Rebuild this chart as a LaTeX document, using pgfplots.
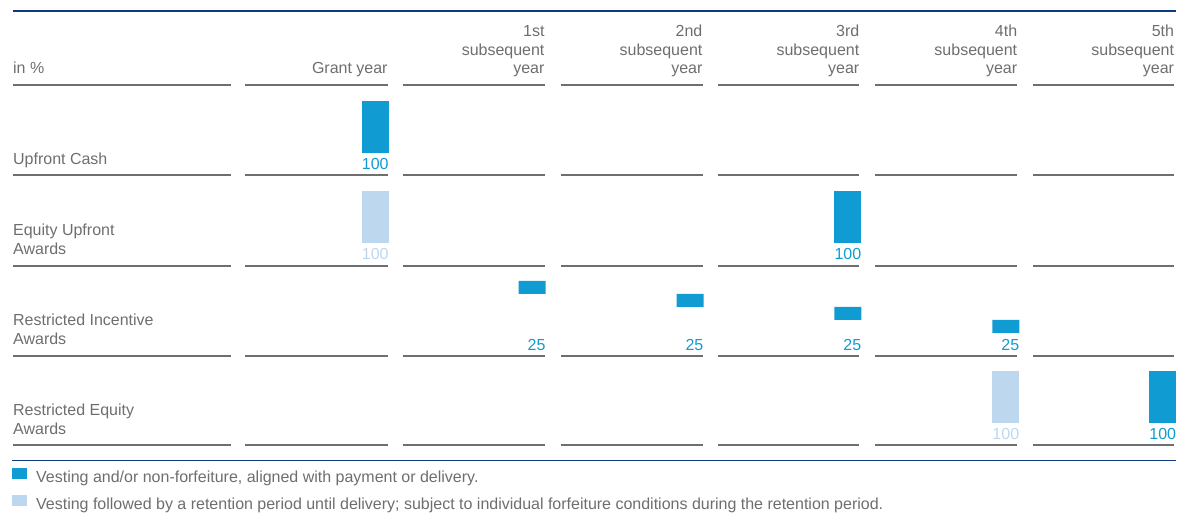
\documentclass[border=0pt]{standalone}
\usepackage{pgfplots}
\pgfplotsset{compat=1.18}
\usepackage{fontspec}
\setmainfont{Liberation Sans}
\definecolor{vdark}{HTML}{109BD2}
\definecolor{vlight}{HTML}{BDD7EE}
\definecolor{txtgray}{HTML}{6D6E70}
\definecolor{rulegray}{HTML}{6F6F71}
\definecolor{navy}{HTML}{0F3A7E}

\pgfplotsset{
  sheet/.style={width=1177pt, height=506pt, scale only axis, hide axis,
    xmin=0, xmax=1177, at={(0,0)}, anchor=south west, clip=false},
}

\begin{document}
\begin{tikzpicture}[font=\fontsize{16}{19}\selectfont]

% frame: rules, headings, row names, value labels, legend (pixel coordinates)
\begin{axis}[sheet, ymin=0, ymax=506, y dir=reverse,
  legend style={at={(axis cs:12,468)}, anchor=north west, draw=none, fill=none,
    inner sep=0pt, row sep=9pt, text=txtgray,
    nodes={inner sep=0pt, text height=11pt, text depth=3pt}},
  legend cell align=left,
  /tikz/every odd column/.append style={column sep=9pt},
  legend image code/.code={\fill[#1] (0pt,0pt) rectangle (15pt,11pt);},
]
\addlegendimage{fill=vdark, draw=none}
\addlegendentry{Vesting and/or non-forfeiture, aligned with payment or delivery.}
\addlegendimage{fill=vlight, draw=none}
\addlegendentry{Vesting followed by a retention period until delivery; subject to individual forfeiture conditions during the retention period.}

% keep the whole sheet as the page
\path (axis cs:0,0) rectangle (axis cs:1177,506);

\draw[navy, line width=1.5pt] (axis cs:13,11) -- (axis cs:1177,11);
\draw[navy, line width=1.5pt] (axis cs:12,461) -- (axis cs:1177,461);

\pgfplotsinvokeforeach{85,175,266,356,445}{
  \draw[rulegray, line width=1.6pt] (axis cs:13,#1) -- (axis cs:231,#1);
  \draw[rulegray, line width=1.6pt] (axis cs:245,#1) -- (axis cs:388,#1);
  \draw[rulegray, line width=1.6pt] (axis cs:403,#1) -- (axis cs:545,#1);
  \draw[rulegray, line width=1.6pt] (axis cs:561,#1) -- (axis cs:703,#1);
  \draw[rulegray, line width=1.6pt] (axis cs:718,#1) -- (axis cs:860,#1);
  \draw[rulegray, line width=1.6pt] (axis cs:876,#1) -- (axis cs:1018,#1);
  \draw[rulegray, line width=1.6pt] (axis cs:1034,#1) -- (axis cs:1175,#1);
}

% column headings
\node[anchor=base west, text=txtgray, inner sep=0pt] at (axis cs:13,74) {in \%};
\node[anchor=base east, text=txtgray, inner sep=0pt] at (axis cs:388,74) {Grant year};
\node[anchor=base east, text=txtgray, inner sep=0pt] at (axis cs:545,37) {1st};
\node[anchor=base east, text=txtgray, inner sep=0pt] at (axis cs:703,37) {2nd};
\node[anchor=base east, text=txtgray, inner sep=0pt] at (axis cs:860,37) {3rd};
\node[anchor=base east, text=txtgray, inner sep=0pt] at (axis cs:1018,37) {4th};
\node[anchor=base east, text=txtgray, inner sep=0pt] at (axis cs:1175,37) {5th};
\pgfplotsinvokeforeach{545,703,860,1018,1175}{
  \node[anchor=base east, text=txtgray, inner sep=0pt] at (axis cs:#1,55.5) {subsequent};
  \node[anchor=base east, text=txtgray, inner sep=0pt] at (axis cs:#1,74) {year};
}

% row names
\node[anchor=base west, text=txtgray, inner sep=0pt] at (axis cs:13,164.5) {Upfront Cash};
\node[anchor=base west, text=txtgray, inner sep=0pt] at (axis cs:13,236) {Equity Upfront};
\node[anchor=base west, text=txtgray, inner sep=0pt] at (axis cs:13,255) {Awards};
\node[anchor=base west, text=txtgray, inner sep=0pt] at (axis cs:13,326) {Restricted Incentive};
\node[anchor=base west, text=txtgray, inner sep=0pt] at (axis cs:13,345) {Awards};
\node[anchor=base west, text=txtgray, inner sep=0pt] at (axis cs:13,416) {Restricted Equity};
\node[anchor=base west, text=txtgray, inner sep=0pt] at (axis cs:13,435) {Awards};

% value labels
\node[anchor=base east, text=vdark, inner sep=0pt] at (axis cs:389,170) {100};
\node[anchor=base east, text=vlight, inner sep=0pt] at (axis cs:389,260) {100};
\node[anchor=base east, text=vdark, inner sep=0pt] at (axis cs:862,260) {100};
\node[anchor=base east, text=vdark, inner sep=0pt] at (axis cs:546,350.5) {25};
\node[anchor=base east, text=vdark, inner sep=0pt] at (axis cs:704,350.5) {25};
\node[anchor=base east, text=vdark, inner sep=0pt] at (axis cs:862,350.5) {25};
\node[anchor=base east, text=vdark, inner sep=0pt] at (axis cs:1020,350.5) {25};
\node[anchor=base east, text=vlight, inner sep=0pt] at (axis cs:1020,440) {100};
\node[anchor=base east, text=vdark, inner sep=0pt] at (axis cs:1177,440) {100};
\end{axis}

% row 1: Upfront Cash (y in %, 0 at bar foot)
\begin{axis}[sheet, ymin=-678.85, ymax=294.23]
\addplot[ybar, bar width=27, fill=vdark, draw=none] coordinates {(375.5,100)};
\end{axis}

% row 2: Equity Upfront Awards
\begin{axis}[sheet, ymin=-505.77, ymax=467.31]
\addplot[ybar, bar width=27, fill=vlight, draw=none] coordinates {(375.5,100)};
\addplot[ybar, bar width=27, fill=vdark, draw=none] coordinates {(848.5,100)};
\end{axis}

% row 3: Restricted Incentive Awards, 25 % per year as a staircase
\begin{axis}[sheet, ymin=-332.69, ymax=640.38, ybar stacked, bar width=27]
\addplot[draw=none, fill=none] coordinates {(532.5,75) (690.5,50) (848.5,25) (1006.5,0)};
\addplot[draw=none, fill=vdark] coordinates {(532.5,25) (690.5,25) (848.5,25) (1006.5,25)};
\end{axis}

% row 4: Restricted Equity Awards
\begin{axis}[sheet, ymin=-159.62, ymax=813.46]
\addplot[ybar, bar width=27, fill=vlight, draw=none] coordinates {(1006.5,100)};
\addplot[ybar, bar width=27, fill=vdark, draw=none] coordinates {(1163.5,100)};
\end{axis}

\end{tikzpicture}
\end{document}
